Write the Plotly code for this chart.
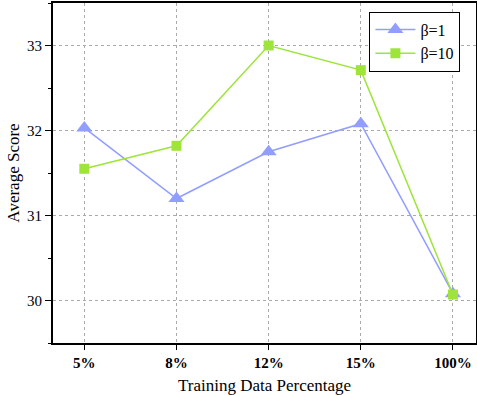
import plotly.graph_objects as go

categories = ["5%", "8%", "12%", "15%", "100%"]
beta1 = [32.03, 31.20, 31.75, 32.08, 30.08]
beta10 = [31.55, 31.82, 33.00, 32.71, 30.07]
xpos = list(range(len(categories)))

fig = go.Figure()
fig.add_trace(go.Scatter(x=xpos, y=beta1, name="β=1", mode="lines+markers",
                         line=dict(color="#929EFF", width=1.5),
                         marker=dict(symbol="triangle-up", size=14, color="#929EFF")))
fig.add_trace(go.Scatter(x=xpos, y=beta10, name="β=10", mode="lines+markers",
                         line=dict(color="#9EE43A", width=1.5),
                         marker=dict(symbol="square", size=10, color="#9EE43A")))

font = "Liberation Serif, Times New Roman, serif"
fig.update_layout(
    width=477, height=395,
    margin=dict(l=53, r=1, t=3, b=52),
    paper_bgcolor="white", plot_bgcolor="white",
    font=dict(family=font, color="black", size=13),
    showlegend=True,
    legend=dict(x=0.748, y=0.975, xanchor="left", yanchor="top",
                bordercolor="black", borderwidth=1, bgcolor="white",
                font=dict(size=16, family=font), itemwidth=40, tracegroupgap=0),
    xaxis=dict(range=[-0.34, 4.25], tickvals=xpos, ticktext=["<b>%s</b>" % c for c in categories],
               showgrid=True, gridcolor="#aaaaaa", griddash="dot", gridwidth=1,
               showline=True, linecolor="black", linewidth=1.8, mirror=True,
               ticks="outside", ticklen=5, tickcolor="black", zeroline=False,
               automargin=False,
               tickfont=dict(size=15, family=font),
               title=dict(text="Training Data Percentage", font=dict(size=17, family=font), standoff=20)),
    yaxis=dict(range=[29.5, 33.5], tickvals=[30, 31, 32, 33],
               showgrid=True, gridcolor="#aaaaaa", griddash="dot", gridwidth=1,
               showline=True, linecolor="black", linewidth=1.8, mirror=True,
               ticks="outside", ticklen=6, tickcolor="black", zeroline=False,
               automargin=False,
               minor=dict(tickvals=[29.5, 30.5, 31.5, 32.5, 33.5], ticks="outside", ticklen=3, tickcolor="black", showgrid=False),
               tickfont=dict(size=15, family=font),
               title=dict(text="Average Score", font=dict(size=17, family=font), standoff=3)),
)
fig.write_html("out.html", config={"displayModeBar": False},
               post_script="document.body.style.margin='0';document.body.style.padding='0';document.body.style.overflow='hidden';")
